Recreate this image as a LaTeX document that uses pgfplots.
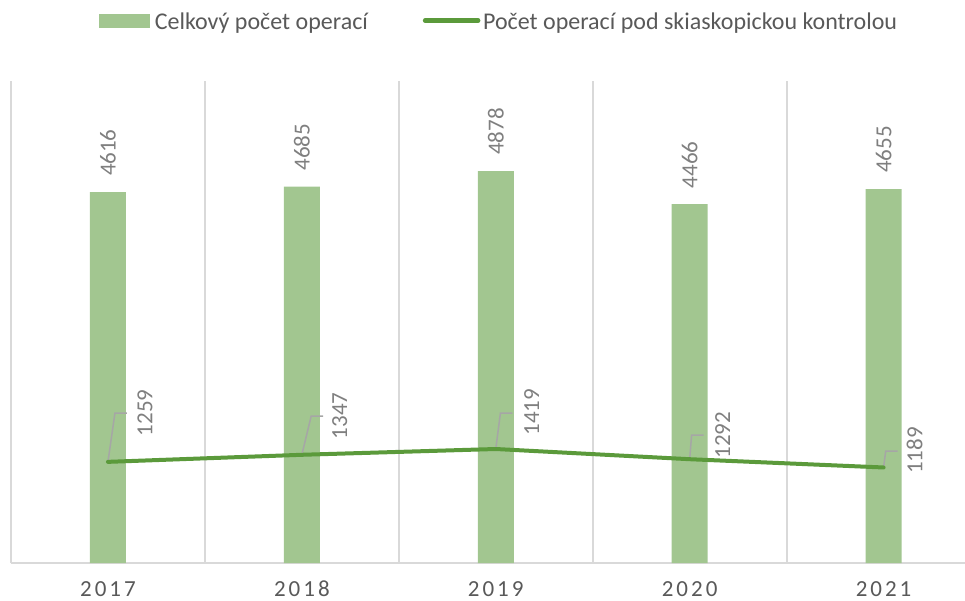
\documentclass[border=0pt]{standalone}
\usepackage{fontspec}
\setmainfont{Carlito}
\newfontfamily\tickfont[LetterSpace=13]{Carlito}
\usepackage{pgfplots}
\pgfplotsset{compat=1.18}
\usepackage{pgfplotstable}
\definecolor{barg}{HTML}{A2C690}
\definecolor{lineg}{HTML}{5B9A3B}
\definecolor{txtg}{HTML}{595959}
\definecolor{lblg}{HTML}{7F7F7F}
\definecolor{gridg}{HTML}{D9D9D9}
\definecolor{leadg}{HTML}{A6A6A6}
\pgfplotstableread{
x y
0 4616
1 4685
2 4878
3 4466
4 4655
}\bars
\pgfplotstableread{
x y dx dy
0 1259 37 49
1 1347 38 39
2 1419 36 37
3 1292 33 24
4 1189 31 17
}\lines
\pgfplotstableread{
x y
0 1259
0.036 1866
0.098 1866
nan nan
1 1347
1.048 1829
1.110 1829
nan nan
2 1419
2.024 1866
2.086 1866
nan nan
3 1292
3.010 1592
3.072 1592
nan nan
4 1189
4.011 1393
4.073 1393
}\leaders
\begin{document}
\begin{tikzpicture}
\begin{axis}[
  scale only axis,
  width=954bp, height=482bp,
  xmin=-0.5, xmax=4.42,
  ymin=0, ymax=6000,
  axis x line*=bottom,
  axis y line=none,
  x axis line style={draw=gridg, line width=2bp, -},
  xtick={0,1,2,3,4},
  xticklabels={2017,2018,2019,2020,2021},
  xticklabel style={font=\tickfont\fontsize{23bp}{28bp}\selectfont, text=txtg, inner sep=0pt, anchor=north, yshift=-18bp},
  major tick length=0pt,
  minor xtick={-0.5,0.5,1.5,2.5,3.5},
  minor tick length=0pt,
  xminorgrids=true,
  minor grid style={draw=gridg, line width=2bp},
  ytick=\empty,
  /pgf/number format/1000 sep={},
  /pgf/number format/assume math mode=true,
  clip=false,
  unbounded coords=jump,
  legend style={draw=none, fill=none, at={(0.5115,1.122)}, anchor=center,
    font=\fontsize{24bp}{29bp}\selectfont, text=txtg,
    /tikz/every even column/.append style={column sep=53bp}},
  legend columns=-1,
]
\coordinate (O) at (rel axis cs:0,0);
\addplot[ybar, bar width=36bp, fill=barg, draw=none,
  nodes near coords,
  every node near coord/.append style={yshift=16bp, rotate=90, anchor=west, inner sep=0pt,
    font=\fontsize{23bp}{28bp}\selectfont, text=lblg},
  legend image code/.code={\fill[barg] (0bp,-5.5bp) rectangle (51bp,8.5bp); \path (54bp,1.5bp);}
] table[x=x,y=y] {\bars};
\addlegendentry{Celkový počet operací}
\addplot[forget plot, draw=leadg, line width=1.5bp, mark=none] table[x=x,y=y] {\leaders};
\addplot[draw=lineg, line width=4bp, line cap=round, line join=round, mark=none,
  point meta=explicit,
  visualization depends on={\thisrow{dx} \as \dx},
  visualization depends on={\thisrow{dy} \as \dy},
  nodes near coords,
  every node near coord/.append style={xshift=\dx bp, yshift=\dy bp, rotate=90, anchor=center, inner sep=0pt,
    font=\fontsize{23bp}{28bp}\selectfont, text=lblg},
  legend image code/.code={\draw[draw=lineg, line width=4.5bp, line cap=round] (2bp,1.5bp) -- (55bp,1.5bp); \path (56bp,1.5bp);}
] table[x=x,y=y,meta=y] {\lines};
\addlegendentry{Počet operací pod skiaskopickou kontrolou}
\end{axis}
\pgfresetboundingbox
\path[use as bounding box] (O) ++(-11bp,-38bp) rectangle ++(965bp,601bp);
\end{tikzpicture}
\end{document}
